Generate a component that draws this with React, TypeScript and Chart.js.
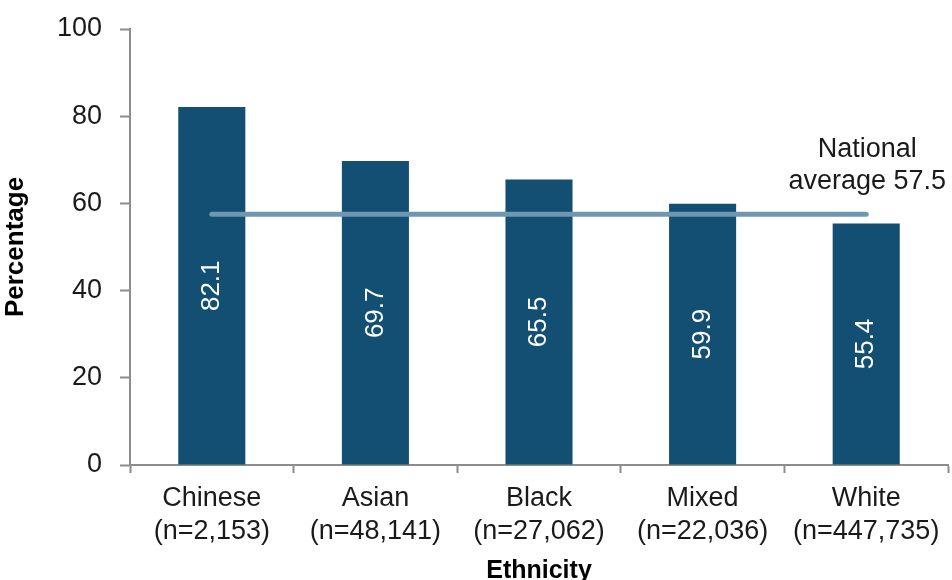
import React, { useEffect, useRef } from "react";
import { Chart, registerables } from "chart.js";

Chart.register(...registerables);

const categories: string[][] = [
  ["Chinese", "(n=2,153)"],
  ["Asian", "(n=48,141)"],
  ["Black", "(n=27,062)"],
  ["Mixed", "(n=22,036)"],
  ["White", "(n=447,735)"],
];
const percentages: number[] = [82.1, 69.7, 65.5, 59.9, 55.4];
const nationalAverage = 57.5;
const yTicks: number[] = [0, 20, 40, 60, 80, 100];

const FONT = "'Liberation Sans', Arial, sans-serif";
const BAR = "#134f73";
const LINE = "#7097b2";
const AXIS = "#8c8c8c";

export default function App() {
  const ref = useRef<HTMLCanvasElement>(null);
  useEffect(() => {
    if (!ref.current) return;
    const labelsPlugin = {
      id: "labelsPlugin",
      afterDatasetsDraw(chart: any) {
        const ctx = chart.ctx;
        const meta = chart.getDatasetMeta(0);
        ctx.save();
        ctx.fillStyle = "#ffffff";
        ctx.font = `26px ${FONT}`;
        ctx.textAlign = "center";
        ctx.textBaseline = "middle";
        meta.data.forEach((bar: any, i: number) => {
          const yMid = (bar.y + bar.base) / 2;
          ctx.save();
          ctx.translate(bar.x, yMid);
          ctx.rotate(-Math.PI / 2);
          ctx.fillText(percentages[i].toFixed(1), 0, 0);
          ctx.restore();
        });
        const xs = chart.scales.x;
        const ys = chart.scales.y;
        const lx = xs.getPixelForValue(categories.length - 1) + 1;
        const ly = ys.getPixelForValue(nationalAverage);
        ctx.fillStyle = "#1a1a1a";
        ctx.font = `27px ${FONT}`;
        ctx.fillText("National", lx, ly - 65);
        ctx.fillText("average " + nationalAverage.toFixed(1), lx, ly - 33);
        ctx.restore();
      },
    };
    const chart = new Chart(ref.current, {
      type: "bar",
      data: {
        labels: categories,
        datasets: [
          {
            type: "bar",
            data: percentages,
            backgroundColor: BAR,
            barPercentage: 0.41,
            categoryPercentage: 1,
            order: 2,
          },
          {
            type: "line",
            data: categories.map(() => nationalAverage),
            borderColor: LINE,
            borderWidth: 5,
            borderCapStyle: "round",
            pointRadius: 0,
            fill: false,
            order: 1,
          } as any,
        ],
      },
      options: {
        animation: false,
        responsive: false,
        maintainAspectRatio: false,
        layout: { padding: { top: 29, right: 4, left: 0, bottom: 0 } },
        plugins: { legend: { display: false }, tooltip: { enabled: false } },
        scales: {
          x: {
            offset: true,
            grid: {
              display: true,
              drawOnChartArea: false,
              offset: true,
              color: AXIS,
              tickLength: 8,
              tickWidth: 2,
            },
            border: { display: true, color: AXIS, width: 2 },
            ticks: {
              color: "#1a1a1a",
              font: { family: FONT, size: 27, lineHeight: 1.23 },
              padding: 9,
              maxRotation: 0,
            },
            title: {
              display: true,
              text: "Ethnicity",
              color: "#000000",
              font: { family: FONT, size: 25, weight: "bold" },
              padding: { top: 4, bottom: -6 },
            },
            afterFit(scale: any) {
              scale.height = 115;
              scale.paddingLeft = 0;
              scale.paddingRight = 0;
            },
          },
          y: {
            min: 0,
            max: 100,
            afterBuildTicks(scale: any) {
              scale.ticks = yTicks.map((v) => ({ value: v }));
            },
            grid: {
              display: true,
              drawOnChartArea: false,
              color: AXIS,
              tickLength: 10,
              tickWidth: 2,
            },
            border: { display: true, color: AXIS, width: 2 },
            ticks: {
              color: "#1a1a1a",
              font: { family: FONT, size: 27 },
              padding: 18,
            },
            title: {
              display: true,
              text: "Percentage",
              color: "#000000",
              font: { family: FONT, size: 26, weight: "bold" },
              padding: { top: 0, bottom: 4 },
            },
            afterFit(scale: any) {
              scale.width = 130;
              scale.paddingTop = 0;
              scale.paddingBottom = 0;
            },
          },
        },
      },
      plugins: [labelsPlugin],
    });
    return () => chart.destroy();
  }, []);
  return (
    <div style={{ position: "absolute", left: 0, top: 0, width: 952, height: 580, background: "#fff" }}>
      <canvas ref={ref} width={952} height={580} />
    </div>
  );
}
